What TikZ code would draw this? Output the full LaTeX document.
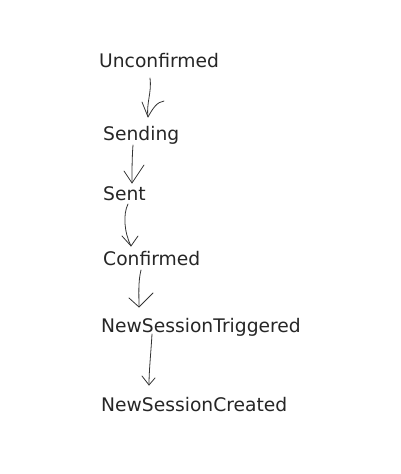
\documentclass[tikz,border=0pt]{standalone}
\usepackage{fontspec}
\setmainfont{DejaVu Sans}
\begin{document}
\begin{tikzpicture}[x=1pt,y=-1pt,
    state/.style={anchor=base west, inner sep=0pt, font=\fontsize{18.7}{22}\selectfont, text=black!85},
    pen/.style={draw=black!80, line width=0.8pt, line cap=round, line join=round}]
    % Page size of the sketch
    \useasboundingbox (0,0) rectangle (400,474);

    % The states, top to bottom
    \node[state] (unc) at (99, 67) {Unconfirmed};
    \node[state] (snd) at (103, 140) {Sending};
    \node[state] (snt) at (103, 200) {Sent};
    \node[state] (cnf) at (103, 265) {Confirmed};
    \node[state] (nst) at (101, 332) {NewSessionTriggered};
    \node[state] (nsc) at (101, 411) {NewSessionCreated};

    % Start and tip of each hand drawn arrow
    \coordinate (s1) at (150, 78);  \coordinate (t1) at (148, 117);
    \coordinate (s2) at (133, 145); \coordinate (t2) at (132, 183);
    \coordinate (s3) at (128, 204); \coordinate (t3) at (131, 246);
    \coordinate (s4) at (141, 270); \coordinate (t4) at (139, 307);
    \coordinate (s5) at (152, 334); \coordinate (t5) at (149, 385);

    % Unconfirmed to Sending
    \draw[pen] (s1) .. controls (152, 92) and (146, 104) .. (t1);
    \draw[pen] (142, 102) -- (t1) .. controls (153, 108) and (157, 102) .. (164, 101);

    % Sending to Sent
    \draw[pen] (s2) .. controls (132, 158) and (132, 170) .. (t2);
    \draw[pen] (124, 171) -- (t2) -- (144, 165);

    % Sent to Confirmed
    \draw[pen] (s3) .. controls (123, 214) and (124, 232) .. (t3);
    \draw[pen] (122, 236) -- (t3) -- (138, 236);

    % Confirmed to NewSessionTriggered
    \draw[pen] (s4) .. controls (138, 282) and (139, 295) .. (t4);
    \draw[pen] (129, 298) -- (t4) -- (153, 293);

    % NewSessionTriggered to NewSessionCreated
    \draw[pen] (s5) .. controls (151, 352) and (149, 370) .. (t5);
    \draw[pen] (142, 376) -- (t5) -- (155, 378);

\end{tikzpicture}
\end{document}
